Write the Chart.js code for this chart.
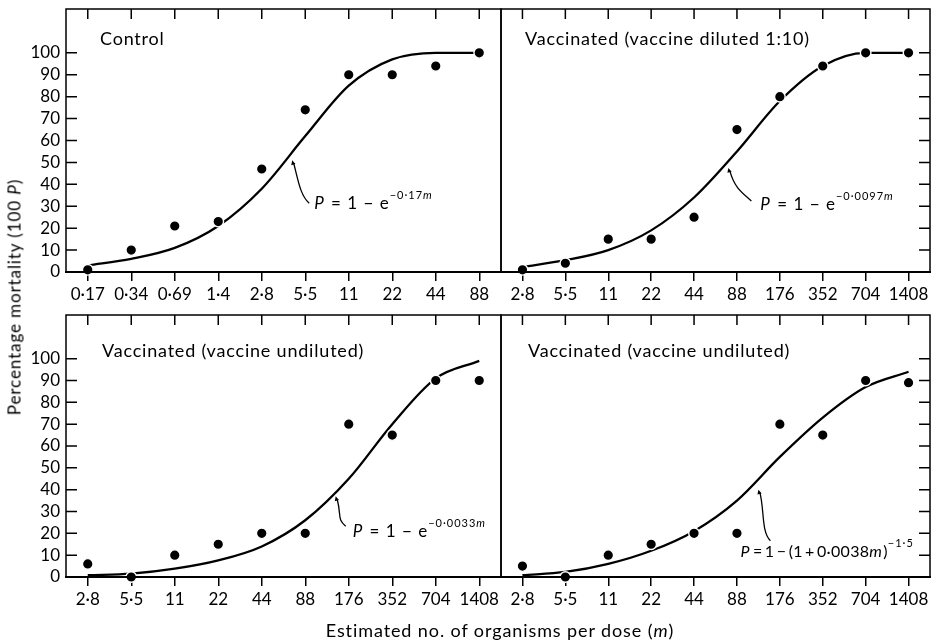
<!DOCTYPE html>
<html lang="en">

<head>
    <meta charset="UTF-8">
    <meta name="viewport" content="width=device-width, initial-scale=1.0">
    <title>Percentage mortality against dose</title>
    <script src="https://cdn.jsdelivr.net/npm/chart.js"></script>
    <style>
        body { margin: 0; background: #fff; }
        #wrap { position: relative; width: 937px; height: 642px; font-family: Lato, sans-serif; color: #000; }
        #wrap canvas { position: absolute; left: 0; top: 0; }
        #ytitle {
            position: absolute; left: 14px; top: 297px; white-space: nowrap; font-size: 17px; letter-spacing: 0.9px;
            transform: translate(-50%, -50%) rotate(-90deg);
        }
        #xtitle {
            position: absolute; left: 500px; top: 630px; white-space: nowrap; font-size: 18px; letter-spacing: 0.9px;
            transform: translate(-50%, -50%);
        }
    </style>
</head>

<body>
    <div id="wrap">
        <canvas id="controlChart" width="937" height="642"></canvas>
        <canvas id="dilutedChart" width="937" height="642"></canvas>
        <canvas id="undilutedChart" width="937" height="642"></canvas>
        <canvas id="undilutedChart2" width="937" height="642"></canvas>
        <div id="ytitle">Percentage mortality (100 <i>P</i>)</div>
        <div id="xtitle">Estimated no. of organisms per dose (<i>m</i>)</div>
    </div>

    <script>
        // dose labels (organisms per dose)
        const controlDoses = ['0·17', '0·34', '0·69', '1·4', '2·8', '5·5', '11', '22', '44', '88'];
        const vaccineDoses = ['2·8', '5·5', '11', '22', '44', '88', '176', '352', '704', '1408'];
        const yTickValues = [0, 10, 20, 30, 40, 50, 60, 70, 80, 90, 100];

        // observed % mortality (dots) and fitted curve read at each dose
        const controlDead = [1, 10, 21, 23, 47, 74, 90, 90, 94, 100];
        const controlCurve = [3, 6, 11, 21, 38, 62, 85, 97, 100, 100];

        const dilutedDead = [1, 4, 15, 15, 25, 65, 80, 94, 100, 100];
        const dilutedCurve = [2.3, 5.4, 10, 19, 34, 55, 78, 94, 100, 100];

        const undilutedDead = [6, 0, 10, 15, 20, 20, 70, 65, 90, 90];
        const undilutedExpCurve = [0.8, 1.5, 3.8, 7.6, 14, 26, 45, 70, 91, 99];

        const undilutedDead2 = [5, 0, 10, 15, 20, 20, 70, 65, 90, 89];
        const undilutedPowCurve = [0.8, 2.3, 6, 12, 21, 35, 55, 73, 87, 94];

        const FONT = 'Lato, sans-serif';

        // frame, inward ticks, panel title and the formula with its arrow
        const framePlugin = {
            id: 'frame',
            afterDraw(chart, args, o) {
                const { ctx, chartArea: a, scales: { x, y } } = chart;
                ctx.save();
                ctx.strokeStyle = '#000';
                ctx.fillStyle = '#000';
                ctx.lineWidth = 1.5;
                ctx.strokeRect(a.left, a.top, a.right - a.left, a.bottom - a.top);
                ctx.lineWidth = 2.2;
                ctx.beginPath();
                ctx.moveTo(a.left - 1, a.bottom);
                ctx.lineTo(a.right + 1, a.bottom);
                ctx.stroke();

                ctx.lineWidth = 1.5;
                ctx.beginPath();
                x.ticks.forEach((t, i) => {
                    const px = x.getPixelForTick(i);
                    ctx.moveTo(px, a.top);
                    ctx.lineTo(px, a.top + 10);
                });
                yTickValues.forEach(v => {
                    if (v === 0) return;
                    const py = y.getPixelForValue(v);
                    if (o.side === 'left') {
                        ctx.moveTo(a.left, py);
                        ctx.lineTo(a.left + 11, py);
                    } else {
                        ctx.moveTo(a.right, py);
                        ctx.lineTo(a.right - 11, py);
                    }
                });
                ctx.stroke();

                // panel title
                ctx.font = '18px ' + FONT;
                ctx.letterSpacing = '0.8px';
                ctx.textBaseline = 'middle';
                ctx.textAlign = 'left';
                ctx.fillText(o.title, a.left + o.titleDx, a.top + o.titleDy);

                // formula arrow
                const tip = { x: x.getPixelForValue(o.tip[0]), y: y.getPixelForValue(o.tip[1]) };
                const tail = { x: tip.x + o.tail[0], y: tip.y + o.tail[1] };
                ctx.lineWidth = 1.3;
                ctx.beginPath();
                ctx.moveTo(tail.x, tail.y);
                ctx.bezierCurveTo(tail.x - 9, tail.y - 8, tip.x + 6, tip.y + 20, tip.x + 1.5, tip.y + 3);
                ctx.stroke();
                const ang = Math.atan2(-17, -4.5);
                ctx.beginPath();
                ctx.moveTo(tip.x, tip.y);
                ctx.lineTo(tip.x - 5 * Math.cos(ang - 0.45), tip.y - 5 * Math.sin(ang - 0.45));
                ctx.lineTo(tip.x - 5 * Math.cos(ang + 0.45), tip.y - 5 * Math.sin(ang + 0.45));
                ctx.closePath();
                ctx.fill();

                // formula text
                let tx = tip.x + o.text[0];
                const ty = tip.y + o.text[1];
                const size = o.formulaSize || 17;
                ctx.textBaseline = 'alphabetic';
                o.formula.forEach(([t, italic, sup]) => {
                    ctx.font = (italic ? 'italic ' : '') + (sup ? '11px ' : size + 'px ') + FONT;
                    ctx.letterSpacing = sup ? '1px' : (o.formulaSpacing || '0px');
                    ctx.fillText(t, tx, sup ? ty - 10 : ty);
                    tx += ctx.measureText(t).width + (italic && !sup ? 1 : 0);
                });
                ctx.restore();
            }
        };

        function makePanel(id, labels, dead, curve, o) {
            const isLeft = o.side === 'left';
            return new Chart(document.getElementById(id), {
                type: 'line',
                data: {
                    labels: labels,
                    datasets: [
                        {
                            data: dead,
                            showLine: false,
                            pointRadius: 5.3,
                            pointBackgroundColor: '#000',
                            pointBorderColor: '#fff',
                            pointBorderWidth: 1.4,
                            clip: false
                        },
                        {
                            data: curve,
                            borderColor: '#000',
                            borderWidth: 2.3,
                            pointRadius: 0,
                            cubicInterpolationMode: 'monotone',
                            fill: false,
                            clip: false
                        }
                    ]
                },
                options: {
                    responsive: false,
                    animation: false,
                    events: [],
                    layout: { padding: o.padding },
                    plugins: {
                        legend: { display: false },
                        tooltip: { enabled: false },
                        frame: o
                    },
                    scales: {
                        x: {
                            offset: true,
                            grid: { display: true, drawOnChartArea: false, drawTicks: true, tickLength: 9, color: '#000', lineWidth: 1.5, offset: false },
                            border: { display: false },
                            ticks: { color: '#000', font: { family: FONT, size: 17 }, padding: 3, maxRotation: 0, autoSkip: false },
                            afterFit: s => { s.height = 30; s.paddingLeft = 0; s.paddingRight = 0; }
                        },
                        y: {
                            display: isLeft,
                            min: 0,
                            max: 120,
                            grid: { display: false, drawTicks: false },
                            border: { display: false },
                            ticks: {
                                stepSize: 10, autoSkip: false, color: '#000', font: { family: FONT, size: 17 }, padding: 6,
                                callback: v => (v <= 100 ? v : '')
                            },
                            afterFit: s => { s.width = isLeft ? 66 : 0; s.paddingTop = 0; s.paddingBottom = 0; }
                        }
                    }
                },
                plugins: [framePlugin]
            });
        }

        makePanel('controlChart', controlDoses, controlDead, controlCurve, {
            side: 'left', padding: { left: 0, top: 9, right: 436, bottom: 340 },
            title: 'Control', titleDx: 34, titleDy: 30,
            tip: [4.7, 51], tail: [17, 43], text: [22, 49], formulaSpacing: '1px',
            formula: [['P', 1, 0], [' = 1 − e', 0, 0], ['−0·17', 0, 1], ['m', 1, 1]]
        });
        makePanel('dilutedChart', vaccineDoses, dilutedDead, dilutedCurve, {
            side: 'right', padding: { left: 501, top: 9, right: 7, bottom: 340 },
            title: 'Vaccinated (vaccine diluted 1:10)', titleDx: 24, titleDy: 30,
            tip: [4.8, 47.5], tail: [23, 33], text: [32, 42], formulaSpacing: '1px',
            formula: [['P', 1, 0], [' = 1 − e', 0, 0], ['−0·0097', 0, 1], ['m', 1, 1]]
        });
        makePanel('undilutedChart', vaccineDoses, undilutedDead, undilutedExpCurve, {
            side: 'left', padding: { left: 0, top: 315, right: 436, bottom: 35 },
            title: 'Vaccinated (vaccine undiluted)', titleDx: 36, titleDy: 36,
            tip: [5.7, 37], tail: [10, 30], text: [17, 41], formulaSpacing: '1px',
            formula: [['P', 1, 0], [' = 1 − e', 0, 0], ['−0·0033', 0, 1], ['m', 1, 1]]
        });
        makePanel('undilutedChart2', vaccineDoses, undilutedDead2, undilutedPowCurve, {
            side: 'right', padding: { left: 501, top: 315, right: 7, bottom: 35 },
            title: 'Vaccinated (vaccine undiluted)', titleDx: 27, titleDy: 36,
            tip: [5.5, 40], tail: [12, 51], text: [-18, 67], formulaSize: 16, formulaSpacing: '0.3px',
            formula: [['P', 1, 0], ['\u2009=\u20091\u2009−\u2009(1\u2009+\u20090·0038', 0, 0], ['m', 1, 0], [')', 0, 0], ['−1·5', 0, 1]]
        });
    </script>
</body>

</html>
